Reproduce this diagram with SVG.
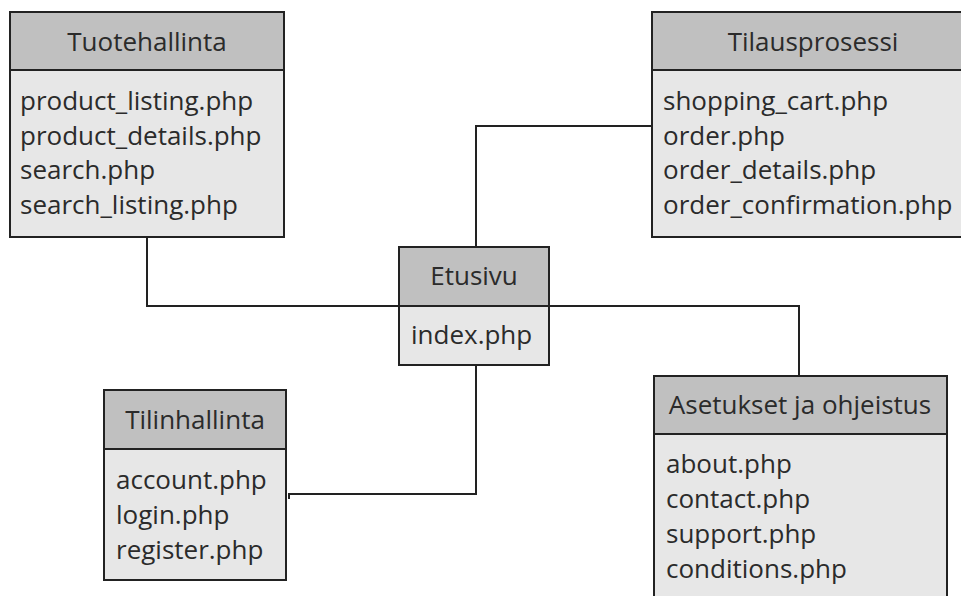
<svg xmlns="http://www.w3.org/2000/svg" width="961" height="596" viewBox="0 0 961 596">
<style>
.hd{fill:#c0c0c0;stroke:#222;stroke-width:2}
.bd{fill:#e7e7e7;stroke:#222;stroke-width:2}
.t{font-family:"Open Sans","Liberation Sans",sans-serif;font-size:26px;fill:#2b2b2b}
.c{text-anchor:middle}
.ln{fill:none;stroke:#222;stroke-width:2}
</style>
<rect width="961" height="596" fill="#ffffff"/>
<g id="connectors">
<polyline class="ln" points="147,237 147,306 399,306"/>
<polyline class="ln" points="549,306 799,306 799,376"/>
<polyline class="ln" points="476,247 476,126 652,126"/>
<polyline class="ln" points="476,365 476,494 289,494 289,499"/>
</g>
<g id="tuotehallinta">
<rect class="bd" x="10" y="70" width="274" height="167"/>
<rect class="hd" x="10" y="12" width="274" height="58"/>
<text class="t c" x="147" y="51">Tuotehallinta</text>
<text class="t" x="20" y="110">product_listing.php</text>
<text class="t" x="20" y="145">product_details.php</text>
<text class="t" x="20" y="179">search.php</text>
<text class="t" x="20" y="214">search_listing.php</text>
</g>
<g id="tilausprosessi">
<rect class="bd" x="652" y="70" width="322" height="167"/>
<rect class="hd" x="652" y="12" width="322" height="58"/>
<text class="t c" x="813" y="51">Tilausprosessi</text>
<text class="t" x="663" y="110">shopping_cart.php</text>
<text class="t" x="663" y="145">order.php</text>
<text class="t" x="663" y="179">order_details.php</text>
<text class="t" x="663" y="214">order_confirmation.php</text>
</g>
<g id="etusivu">
<rect class="bd" x="399" y="306" width="150" height="59"/>
<rect class="hd" x="399" y="247" width="150" height="59"/>
<text class="t c" x="474" y="285">Etusivu</text>
<text class="t" x="411" y="344">index.php</text>
</g>
<g id="tilinhallinta">
<rect class="bd" x="104" y="449" width="182" height="131"/>
<rect class="hd" x="104" y="390" width="182" height="59"/>
<text class="t c" x="195" y="429">Tilinhallinta</text>
<text class="t" x="116" y="489">account.php</text>
<text class="t" x="116" y="524">login.php</text>
<text class="t" x="116" y="559">register.php</text>
</g>
<g id="asetukset">
<rect class="bd" x="654" y="434" width="293" height="180"/>
<rect class="hd" x="654" y="376" width="293" height="58"/>
<text class="t c" x="800" y="414">Asetukset ja ohjeistus</text>
<text class="t" x="666" y="473">about.php</text>
<text class="t" x="666" y="508">contact.php</text>
<text class="t" x="666" y="543">support.php</text>
<text class="t" x="666" y="578">conditions.php</text>
</g>
</svg>
